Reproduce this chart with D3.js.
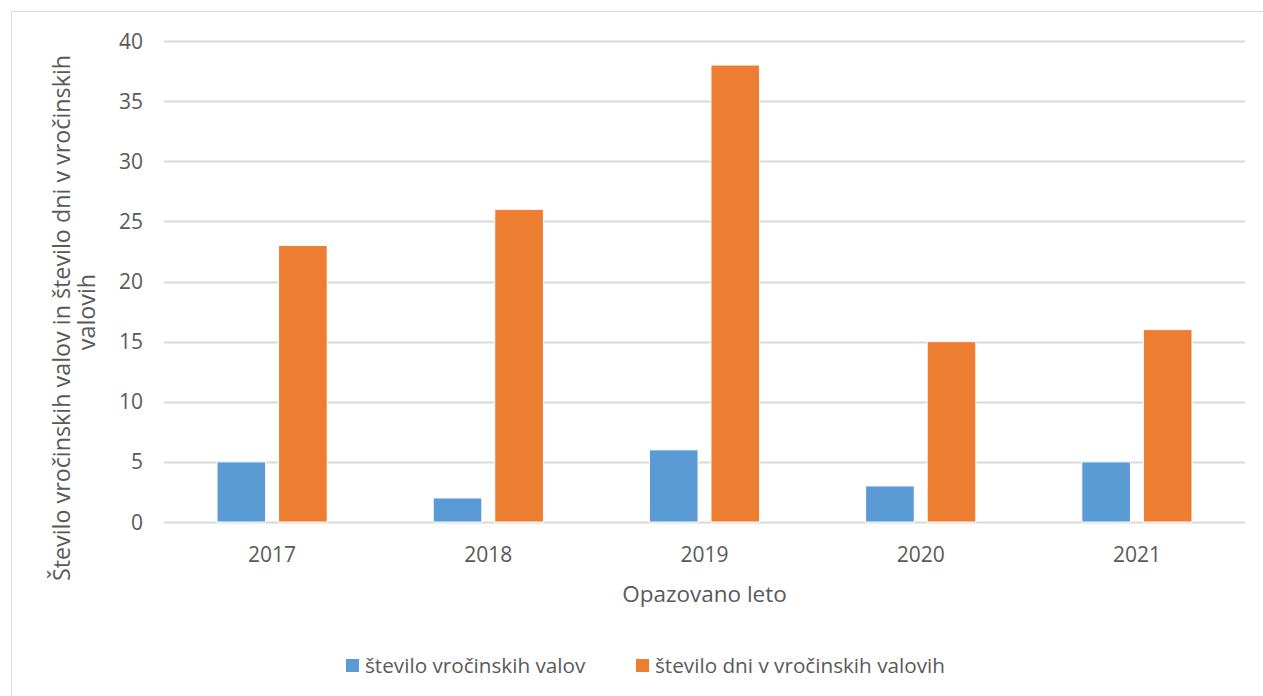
<!DOCTYPE html>
<html>
<head>
<meta charset="utf-8">
<script src="https://cdn.jsdelivr.net/npm/d3@7"></script>
<style>
  body { margin: 0; background: #fff; }
  text { font-family: "Open Sans", sans-serif; fill: #595959; }
</style>
</head>
<body>
<svg id="chart" width="1263" height="696"></svg>
<script>
// data
var years = ["2017", "2018", "2019", "2020", "2021"];
var valovi = [5, 2, 6, 3, 5];
var dnevi = [23, 26, 38, 15, 16];
var seriesNames = ["število vročinskih valov", "število dni v vročinskih valovih"];
var yTicks = [0, 5, 10, 15, 20, 25, 30, 35, 40];
var colors = ["#5b9bd5", "#ed7d31"];

var svg = d3.select("#chart");
var margin = {left: 164, right: 18, top: 41, bottom: 174};
var width = 1263 - margin.left - margin.right,
    height = 696 - margin.top - margin.bottom;

// frame
svg.append("rect")
    .attr("x", 11.5).attr("y", 11.5)
    .attr("width", 1300).attr("height", 1300)
    .attr("fill", "none")
    .attr("stroke", "#d9d9d9");

var g = svg.append("g")
    .attr("transform", "translate(" + margin.left + "," + margin.top + ")");

var x = d3.scaleBand().domain(years).range([0, width]);
var x1 = d3.scaleBand().domain([0, 1]).range([53, x.bandwidth() - 53]).paddingInner(0.21);
var y = d3.scaleLinear().domain([0, 40]).range([height, 0]);

// grid
g.selectAll(".grid")
    .data(yTicks)
    .enter().append("line")
    .attr("x1", 0).attr("x2", width)
    .attr("y1", function(d) { return Math.round(y(d)) + 0.5; })
    .attr("y2", function(d) { return Math.round(y(d)) + 0.5; })
    .attr("stroke", "#d9d9d9")
    .attr("stroke-width", 2);

// y labels
g.selectAll(".ylab")
    .data(yTicks)
    .enter().append("text")
    .attr("x", -21)
    .attr("y", function(d) { return y(d); })
    .attr("dy", "0.36em")
    .attr("text-anchor", "end")
    .style("font-size", "21px")
    .text(function(d) { return d; });

// bars
var groups = g.selectAll(".year")
    .data(years)
    .enter().append("g")
    .attr("transform", function(d) { return "translate(" + x(d) + ",0)"; });

groups.selectAll("rect")
    .data(function(d, i) { return [valovi[i], dnevi[i]]; })
    .enter().append("rect")
    .attr("x", function(d, j) { return x1(j); })
    .attr("width", x1.bandwidth())
    .attr("y", function(d) { return y(d); })
    .attr("height", function(d) { return height - y(d); })
    .attr("fill", function(d, j) { return colors[j]; })
    .attr("stroke", "#fff")
    .attr("stroke-width", 1);

// x labels
g.selectAll(".xlab")
    .data(years)
    .enter().append("text")
    .attr("x", function(d) { return x(d) + x.bandwidth() / 2; })
    .attr("y", height + 40)
    .attr("text-anchor", "middle")
    .style("font-size", "21px")
    .text(function(d) { return d; });

// axis titles
svg.append("text")
    .attr("x", margin.left + width / 2)
    .attr("y", 602)
    .attr("text-anchor", "middle")
    .style("font-size", "22.5px")
    .text("Opazovano leto");

svg.append("text")
    .attr("transform", "translate(70,318) rotate(-90)")
    .attr("text-anchor", "middle")
    .style("font-size", "23.3px")
    .text("Število  vročinskih valov in število dni v vročinskih");

svg.append("text")
    .attr("transform", "translate(95,312) rotate(-90)")
    .attr("text-anchor", "middle")
    .style("font-size", "23.3px")
    .text("valovih");

// legend
var legendX = [346, 636];
var legend = svg.selectAll(".legend")
    .data(seriesNames)
    .enter().append("g")
    .attr("transform", function(d, i) { return "translate(" + legendX[i] + ",659)"; });

legend.append("rect")
    .attr("width", 13).attr("height", 13)
    .attr("fill", function(d, i) { return colors[i]; });

legend.append("text")
    .attr("x", 19)
    .attr("y", 14)
    .style("font-size", "20.7px")
    .text(function(d) { return d; });
</script>
</body>
</html>
